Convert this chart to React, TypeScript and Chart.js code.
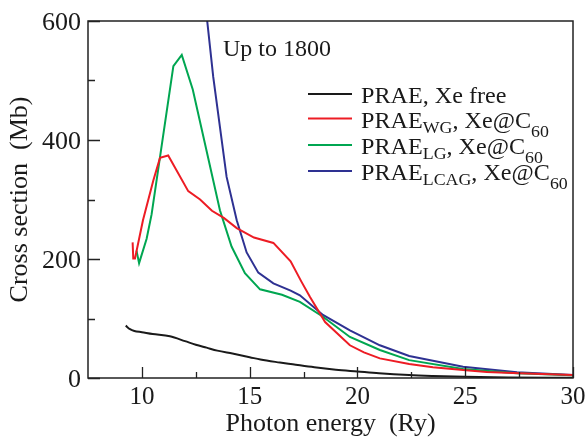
import { useEffect, useRef } from "react";
import { Chart, registerables } from "chart.js";

Chart.register(...registerables);

// ---- data (photon energy in Ry, cross section in Mb) ----
const freeX = [9.25, 9.45, 9.65, 10, 10.5, 11.3, 12, 12.5, 13, 13.5, 14.2, 15, 15.5, 16.4, 17, 18, 19, 20, 21, 22.4, 23.5, 25, 27, 30];
const freeY = [88, 82, 79, 77, 74, 70, 62, 56, 51, 46, 41, 35, 31, 26, 23, 18, 14, 11, 8, 5, 3.5, 2, 1, 0.5];

const wgX = [9.57, 9.6, 9.68, 10.05, 10.53, 10.84, 11.22, 12.15, 12.7, 13.25, 13.8, 14.4, 15.2, 16.1, 16.9, 17.4, 17.8, 18.5, 19.65, 20.3, 21.04, 22.4, 23.5, 24.9, 26, 27.5, 30];
const wgY = [228, 201, 201, 265, 332, 370, 374, 314, 300, 281, 269, 252, 236, 227, 196, 162, 136, 94, 55, 43, 33, 23.5, 18, 13.4, 10, 8, 5];

const lgX = [9.75, 9.87, 10.22, 10.45, 11.46, 11.85, 12.36, 13.0, 13.62, 14.16, 14.78, 15.48, 16.5, 17.33, 18.4, 19.65, 21.04, 22.4, 24.9, 27.4, 30];
const lgY = [214, 193, 234, 275, 524, 543, 485, 382, 282, 221, 176, 149, 140, 128, 103, 69, 47, 30, 15, 8, 4.5];

const lcagX = [9.9, 10.8, 11.8, 12.6, 13.03, 13.31, 13.93, 14.4, 14.86, 15.4, 16.1, 16.9, 17.33, 18.4, 19.65, 21.04, 22.4, 24.9, 27.4, 30];
const lcagY = [700, 1300, 1800, 1100, 600, 506, 338, 265, 211, 177, 159, 147, 139, 106, 80, 55, 37, 19, 9.5, 5];

const xTickValues = [10, 15, 20, 25, 30];
const xMinorTicks = [12.5, 17.5, 22.5, 27.5];
const yTickValues = [0, 200, 400, 600];
const yMinorTicks = [100, 300, 500];

const xTitle = "Photon energy  (Ry)";
const yTitle = "Cross section  (Mb)";
const note = "Up to 1800";

const COLORS = { free: "#1a1a1a", wg: "#ed1c24", lg: "#00a651", lcag: "#2e3192" };

type Part = { t: string; sub?: number };
const legendEntries: { color: string; parts: Part[] }[] = [
  { color: COLORS.free, parts: [{ t: "PRAE, Xe free" }] },
  { color: COLORS.wg, parts: [{ t: "PRAE" }, { t: "WG", sub: 5 }, { t: ", Xe@C" }, { t: "60", sub: 9 }] },
  { color: COLORS.lg, parts: [{ t: "PRAE" }, { t: "LG", sub: 5 }, { t: ", Xe@C" }, { t: "60", sub: 9 }] },
  { color: COLORS.lcag, parts: [{ t: "PRAE" }, { t: "LCAG", sub: 5 }, { t: ", Xe@C" }, { t: "60", sub: 9 }] },
];

const FAMILY = "Liberation Serif";
const SERIF = `"${FAMILY}", "Times New Roman", serif`;
const INK = "#1a1a1a";

function pts(xs: number[], ys: number[]) {
  return xs.map((x, i) => ({ x, y: ys[i] }));
}

const decorPlugin = {
  id: "decor",
  afterDraw(chart: any) {
    const ctx: CanvasRenderingContext2D = chart.ctx;
    const { left, right, top, bottom } = chart.chartArea;
    const xs = chart.scales.x;
    const ys = chart.scales.y;
    ctx.save();
    ctx.strokeStyle = "#222";
    ctx.lineWidth = 1.5;
    ctx.strokeRect(left, top, right - left, bottom - top);
    // ticks (inward)
    ctx.lineWidth = 1.3;
    ctx.beginPath();
    const tick = (v: number, len: number, axis: "x" | "y") => {
      if (axis === "x") {
        const p = Math.round(xs.getPixelForValue(v)) + 0.5;
        ctx.moveTo(p, bottom);
        ctx.lineTo(p, bottom - len);
      } else {
        const p = Math.round(ys.getPixelForValue(v)) + 0.5;
        ctx.moveTo(left, p);
        ctx.lineTo(left + len, p);
      }
    };
    xTickValues.forEach((v) => tick(v, 11, "x"));
    xMinorTicks.forEach((v) => tick(v, 6, "x"));
    yTickValues.forEach((v) => tick(v, 12, "y"));
    yMinorTicks.forEach((v) => tick(v, 7, "y"));
    ctx.stroke();

    ctx.fillStyle = INK;
    ctx.textBaseline = "alphabetic";
    // tick labels
    ctx.font = `25px ${SERIF}`;
    ctx.textAlign = "center";
    xTickValues.forEach((v) => ctx.fillText(String(v), xs.getPixelForValue(v), 403.5));
    ctx.font = `26px ${SERIF}`;
    ctx.textAlign = "right";
    yTickValues.forEach((v) => ctx.fillText(String(v), 81, ys.getPixelForValue(v) + 8.5));

    // axis titles
    ctx.font = `26px ${SERIF}`;
    ctx.textAlign = "center";
    ctx.fillText(xTitle, (left + right) / 2, 431);
    ctx.save();
    ctx.translate(27, (top + bottom) / 2);
    ctx.rotate(-Math.PI / 2);
    ctx.fillText(yTitle, 0, 0);
    ctx.restore();

    // note
    ctx.textAlign = "left";
    ctx.font = `24px ${SERIF}`;
    ctx.fillText(note, 223, 56);

    // legend
    const lineYs = [94, 118.5, 145, 171];
    const baseYs = [103, 127.5, 154, 180];
    legendEntries.forEach((e, i) => {
      ctx.strokeStyle = e.color;
      ctx.lineWidth = 2;
      ctx.beginPath();
      ctx.moveTo(308, lineYs[i]);
      ctx.lineTo(352, lineYs[i]);
      ctx.stroke();
      ctx.save();
      ctx.translate(361, baseYs[i]);
      ctx.scale(1.05, 1);
      let x = 0;
      e.parts.forEach((p) => {
        ctx.font = p.sub ? `17px ${SERIF}` : `23px ${SERIF}`;
        ctx.fillText(p.t, x, p.sub || 0);
        x += ctx.measureText(p.t).width;
      });
      ctx.restore();
    });
    ctx.restore();
  },
};

export default function App() {
  const ref = useRef<HTMLCanvasElement>(null);
  useEffect(() => {
    if (!ref.current) return;
    const mk = (data: any, color: string, extra: any = {}) => ({
      data,
      borderColor: color,
      backgroundColor: color,
      borderWidth: 2,
      pointRadius: 0,
      tension: 0,
      clip: 0,
      ...extra,
    });
    const chart = new Chart(ref.current, {
      type: "line",
      data: {
        datasets: [
          mk(pts(freeX, freeY), COLORS.free, { cubicInterpolationMode: "monotone" }),
          mk(pts(wgX, wgY), COLORS.wg),
          mk(pts(lgX, lgY), COLORS.lg),
          mk(pts(lcagX, lcagY), COLORS.lcag),
        ] as any,
      },
      options: {
        animation: false,
        responsive: false,
        layout: { padding: { left: 0, top: 21, right: 14, bottom: 0 } },
        plugins: { legend: { display: false }, tooltip: { enabled: false } },
        scales: {
          x: {
            type: "linear",
            min: 7.5,
            max: 30,
            grid: { display: false, drawTicks: false },
            border: { display: false },
            ticks: { display: false },
            afterFit: (s: any) => {
              s.height = 61;
            },
          },
          y: {
            type: "linear",
            min: 0,
            max: 600,
            grid: { display: false, drawTicks: false },
            border: { display: false },
            ticks: { display: false },
            afterFit: (s: any) => {
              s.width = 88;
            },
          },
        },
      } as any,
      plugins: [decorPlugin],
    });
    let alive = true;
    const redraw = () => {
      if (alive) chart.draw();
    };
    const fonts: any = (document as any).fonts;
    if (fonts) {
      Promise.all([
        fonts.load(`23px "${FAMILY}"`, "PRAE 0123456789"),
        fonts.load(`17px "${FAMILY}"`, "WG60"),
      ])
        .catch(() => null)
        .then(redraw);
      fonts.ready.then(redraw);
    }
    const timers = [50, 200, 600, 1200].map((t) => setTimeout(redraw, t));
    return () => {
      alive = false;
      timers.forEach(clearTimeout);
      chart.destroy();
    };
  }, []);
  return (
    <div style={{ position: "absolute", left: 0, top: 0, width: 587, height: 439, background: "#fff" }}>
      <canvas ref={ref} width={587} height={439} style={{ display: "block" }} />
    </div>
  );
}
